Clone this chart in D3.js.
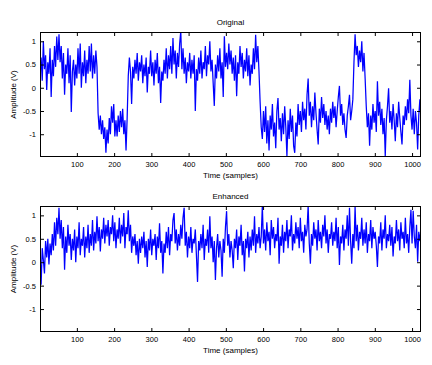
<!DOCTYPE html>
<html>
<head>
<meta charset="utf-8">
<script src="https://cdn.jsdelivr.net/npm/d3@7"></script>
<style>
  html, body { margin: 0; padding: 0; background: #ffffff; }
  svg { display: block; }
  text { font-family: "Liberation Sans", Arial, Helvetica, sans-serif; fill: #000; }
</style>
</head>
<body>
<svg id="chart" width="432" height="365"></svg>
<script>
// ---- data (sampled every 3rd sample: 1, 4, 7, ..., 1024) ----
const sampleStep = 3;
const sampleStart = 1;
const xTicks = [100, 200, 300, 400, 500, 600, 700, 800, 900, 1000];
const yTicks = [-1, -0.5, 0, 0.5, 1];
const xDomain = [1, 1024];
const yDomain = [-1.49, 1.2];
const titles = ["Original", "Enhanced"];
const xLabel = "Time (samples)";
const yLabel = "Amplitude (V)";

const originalValues = [
  0.3, 0.65, 0.15, 1.0, 0.4, 0.7, -0.05, 0.55, 0.3, 0.85,
  -0.2, 0.6, 0.25, 0.9, 0.45, 1.1, 0.6, 1.15, 0.55, 0.9,
  0.2, 0.75, -0.15, 0.5, 0.3, 0.85, 0.1, 0.7, -0.52, 0.35,
  0.6, 0.05, 0.5, 0.2, 0.85, 0.3, 0.95, 0.0, 0.55, 0.25,
  0.8, 0.1, 0.6, 0.3, 0.9, 0.35, 0.95, 0.2, 0.7, 0.3,
  0.8, 0.45,
  -0.55, -0.9, -0.6, -1.0, -0.7, -1.1, -0.85, -1.4, -0.9, -1.2,
  -0.65, -1.0, -0.4, -0.75, -0.35, -1.05, -0.7, -1.05, -0.6, -0.95,
  -0.5, -0.85, -0.45, -1.0, -0.7, -1.35, -0.65,
  0.25, 0.65, 0.35, -0.35, 0.45, 0.2, 0.6, 0.3, 0.75, 0.15,
  0.55, 0.35, 0.7, 0.1, 0.5, 0.25, 0.65, -0.1, 0.45, 0.3,
  0.8, 0.25, 0.55, 0.05, 0.6, 0.3, 0.75, 0.1, 0.45, -0.33,
  0.35, 0.15, 0.6, 0.3, 0.85, 0.2, 0.7, 0.4, 0.9, 0.3,
  1.07, 0.5, 0.8, 0.2, 0.75, 0.45, 0.95, 1.22, 0.4, 0.85,
  0.3, 0.65, 0.1, 0.55, 0.35, 0.75, 0.2, 0.6, 0.3, 0.7,
  -0.5, 0.4, 0.15, 0.65, 0.3, 0.8, 0.2, 0.55, 0.4, 0.9,
  0.25, 0.7, 0.5, 1.0, 0.35, 0.6, 0.1, -0.39, 0.5, 0.2,
  0.7, 0.35, 0.85, 0.2, 0.55, -0.2, 1.11, 0.45, 0.75, 0.4,
  0.95, 0.5, 0.8, 0.3, 0.65, 0.15, 0.7, -0.18, 0.55, 0.3,
  0.9, 0.45, 0.75, 0.2, 0.6, 0.35, 0.85, 0.25, 0.7, 0.05,
  0.5, 0.3, 0.85, 0.4, 1.14, 0.55, 0.9, 0.35,
  -0.3, -0.85, -1.1, -0.5, -0.95, -0.4, -1.2, -0.7, -1.35, -0.6,
  -0.9, -0.35, -1.05, -0.75, -1.3, -0.5, -0.22, -0.9, -0.65, -1.15,
  -0.55, -1.0, -0.4, -0.85, -1.47, -0.7, -1.1, -0.45, -0.95, -0.6,
  -1.25, -1.4, -0.75, -1.05, -0.35, -0.8, -0.5, -0.95, -0.3, -0.7,
  -0.45, -0.9, -0.15, 0.2, -0.6, -0.3, -0.85, -0.4, -0.7, -0.1,
  -0.55, -0.9, -1.22, -0.45, -0.75, -0.2, -0.65, -0.35, -0.8, -0.5,
  -0.9, -0.6, -1.0, -0.45, -0.75, -0.3, -0.65, -0.4, -0.85, -0.5,
  -0.2, 0.04, -0.6, -0.35, -0.8, -0.55, -0.9, -1.08, -0.6, -0.4,
  -0.15, -0.7, -0.5, -0.25,
  0.55, 1.15, 0.7, 0.9, 0.45, 0.8, 0.55, 1.0, 0.35, 0.75, 0.2,
  -0.4, -0.85, -0.55, -1.25, -0.6, -0.9, -0.35, -0.75, -0.5, -0.95,
  0.14, -0.6, -0.3, -0.8, -0.45, -1.0, -0.65, -1.47, -0.7, -0.4,
  -0.01, -0.75, -0.5, -0.9, -0.35, -0.7, -1.15, -0.55, -0.85, -0.3,
  -0.65, -0.95, -1.22, -0.6, -0.8, -0.4, -0.7, -0.25, -0.55, 0.17,
  -0.6, -0.9, -0.45, -1.0, -0.5, -0.75, -1.33, -0.6, -0.25, -0.7
];

const enhancedValues = [
  0.2, -0.48, 0.3, 0.05, -0.24, 0.45, 0.1, 0.5, -0.05, 0.4,
  0.15, 0.6, 0.25, 0.85, 0.35, 0.95, 0.6, 1.16, 0.5, 0.9,
  0.3, 0.75, -0.16, 0.55, 0.2, 0.8, 0.35, 0.6, 0.05, 0.5,
  0.25, 0.7, 0.0, 0.55, 0.3, 0.85, 0.15, 0.5, 0.35, 0.75,
  0.1, 0.55, 0.3, 0.8, 0.2, 0.6, 0.35, 0.9, 0.25, 0.65,
  0.4, 0.98, 0.45, 0.75, 0.23, 0.7, 0.5, 0.95, 0.4, 0.8,
  0.55, 0.9, 0.35, 0.75, 0.6, 1.0, 0.45, 0.85, 0.3, 0.7,
  0.5, 0.95, 0.4, 0.8, 0.55, 1.05, 0.3, 0.75, 0.6, 1.11,
  0.45, 0.8, 0.2, 0.55, 0.35, 0.6, 0.15, 0.45, -0.03, 0.5,
  0.2, 0.55, 0.3, 0.65, 0.1, 0.45, -0.1, 0.5, 0.25, 0.7,
  0.15, 0.5, 0.35, 0.6, 0.05, 0.55, 0.3, 0.83, 0.2, 0.45,
  -0.24, 0.4, 0.2, 0.65, 0.3, 0.75, 0.15, 0.6, 0.45, 0.9,
  1.05, 0.4, 0.7, 0.25, 0.6, 0.35, 0.8, 0.5, 0.95, 1.16,
  0.35, 0.65, 0.1, 0.55, 0.3, 0.75, 0.2, 0.5, 0.4, 0.7,
  0.15, -0.42, 0.45, 0.25, 0.6, 0.3, 0.8, 0.05, 0.5, 0.35,
  0.7, 0.2, 0.98, 0.3, 0.55, 0.0, 0.45, -0.38, 0.3, 0.6,
  0.1, 0.45, 0.25, -0.31, 0.5, 0.2, 0.75, 1.09, 0.35, 0.6,
  0.1, 0.45, 0.25, -0.13, 0.5, 0.3, 0.7, 0.05, 0.55, 0.35,
  0.8, 0.15, 0.45, -0.2, 0.5, 0.3, 0.65, 0.1, 0.55, 0.25,
  0.7, 0.35, 0.98, 0.2, 0.6, 0.4, 0.75, 0.3, 0.55, 1.21,
  0.4, 0.7, 0.25, 0.85, 0.45, 0.65, 0.15, 0.9, 0.5, 0.75,
  0.3, 0.6, 0.45, 0.95, -0.03, 0.55, 0.35, 0.8, 0.2, 0.65,
  0.45, 0.9, 0.3, 0.7, 0.55, 1.0, 0.25, 0.6, 0.4, 0.85,
  0.5, 0.75, 0.3, 0.95, 0.45, 0.65, 0.2, 0.8, 0.55, 0.7,
  1.21, 0.4, -0.03, 0.6, 0.35, 0.85, 0.5, 0.7, 0.25, 0.9,
  0.45, 0.65, 0.3, 0.8, 0.55, 1.0, 0.4, 0.7, 0.2, 0.6,
  0.5, 0.85, 0.35, 0.65, 0.45, 0.95, 0.3, 0.75, -0.06, 0.55,
  0.4, 0.8, 0.25, 0.7, 0.5, 1.0, 0.35, 1.16, 0.45, -0.03,
  0.6, 0.3, 1.19, 0.45, 0.8, 0.25, 0.65, 0.5, 0.95, 0.35,
  0.7, 0.4, 0.85, 0.2, 0.6, 0.45, 0.9, 0.3, 0.75, 0.5,
  0.65, 0.35, -0.1, 0.55, 0.4, 0.85, 0.25, 0.7, 0.5, 1.0,
  0.3, 0.6, 0.45, 0.8, 0.35, 0.75, 0.12, 0.55, 0.4, 0.9,
  0.45, 0.7, 0.25, 0.85, 0.5, 0.65, 0.3, 0.95, 0.4, 0.6,
  0.2, 0.75, 1.12, 0.4, 1.1, 0.55, 0.3, 0.8, 0.01, 0.65,
  0.45, 0.7
];

// ---- layout ----
const svg = d3.select("#chart");
const W = 432, H = 365;
svg.append("rect").attr("width", W).attr("height", H).attr("fill", "#fff");

const panels = [
  { title: titles[0], values: originalValues, top: 32, bottom: 157 },
  { title: titles[1], values: enhancedValues, top: 206, bottom: 332 }
];
const left = 40, right = 421;
const fontStack = '"Liberation Sans", Arial, Helvetica, sans-serif';

const x = d3.scaleLinear().domain(xDomain).range([left, right]);

panels.forEach((p, pi) => {
  const y = d3.scaleLinear().domain(yDomain).range([p.bottom, p.top]);
  const g = svg.append("g");

  const clipId = "clip" + pi;
  svg.append("clipPath").attr("id", clipId)
    .append("rect").attr("x", left).attr("y", p.top)
    .attr("width", right - left).attr("height", p.bottom - p.top);

  const line = d3.line()
    .x((d, i) => x(sampleStart + i * sampleStep))
    .y(d => y(d));

  g.append("path")
    .datum(p.values)
    .attr("clip-path", `url(#${clipId})`)
    .attr("fill", "none")
    .attr("stroke", "#0000ff")
    .attr("stroke-width", 1.25)
    .attr("stroke-linejoin", "miter")
    .attr("d", line);

  // axes with inward ticks
  const axB = g.append("g").attr("transform", `translate(0,${p.bottom})`)
    .call(d3.axisBottom(x).tickValues(xTicks).tickSize(-4).tickSizeOuter(0)
      .tickPadding(4.5).tickFormat(d3.format("d")));
  const axT = g.append("g").attr("transform", `translate(0,${p.top})`)
    .call(d3.axisTop(x).tickValues(xTicks).tickSize(-4).tickSizeOuter(0).tickFormat(""));
  const axL = g.append("g").attr("transform", `translate(${left},0)`)
    .call(d3.axisLeft(y).tickValues(yTicks).tickSize(-4).tickSizeOuter(0).tickPadding(4)
      .tickFormat(d => String(d)));
  const axR = g.append("g").attr("transform", `translate(${right},0)`)
    .call(d3.axisRight(y).tickValues(yTicks).tickSize(-4).tickSizeOuter(0).tickFormat(""));

  [axB, axT, axL, axR].forEach(a => {
    a.select(".domain").remove();
    a.selectAll("line").attr("stroke", "#000").attr("stroke-width", 1);
    a.selectAll("text").attr("font-size", 7.5).attr("fill", "#000")
      .attr("font-family", fontStack);
  });

  g.append("rect")
    .attr("x", left + 0.5).attr("y", p.top + 0.5)
    .attr("width", right - left - 1).attr("height", p.bottom - p.top - 1)
    .attr("fill", "none").attr("stroke", "#000").attr("stroke-width", 1);

  g.append("text")
    .attr("x", (left + right) / 2).attr("y", p.top - 7)
    .attr("text-anchor", "middle").attr("font-size", 8)
    .text(p.title);

  g.append("text")
    .attr("x", (left + right) / 2).attr("y", p.bottom + 21)
    .attr("text-anchor", "middle").attr("font-size", 8)
    .text(xLabel);

  g.append("text")
    .attr("transform", `translate(16,${(p.top + p.bottom) / 2}) rotate(-90)`)
    .attr("text-anchor", "middle").attr("font-size", 8)
    .text(yLabel);
});
</script>
</body>
</html>
